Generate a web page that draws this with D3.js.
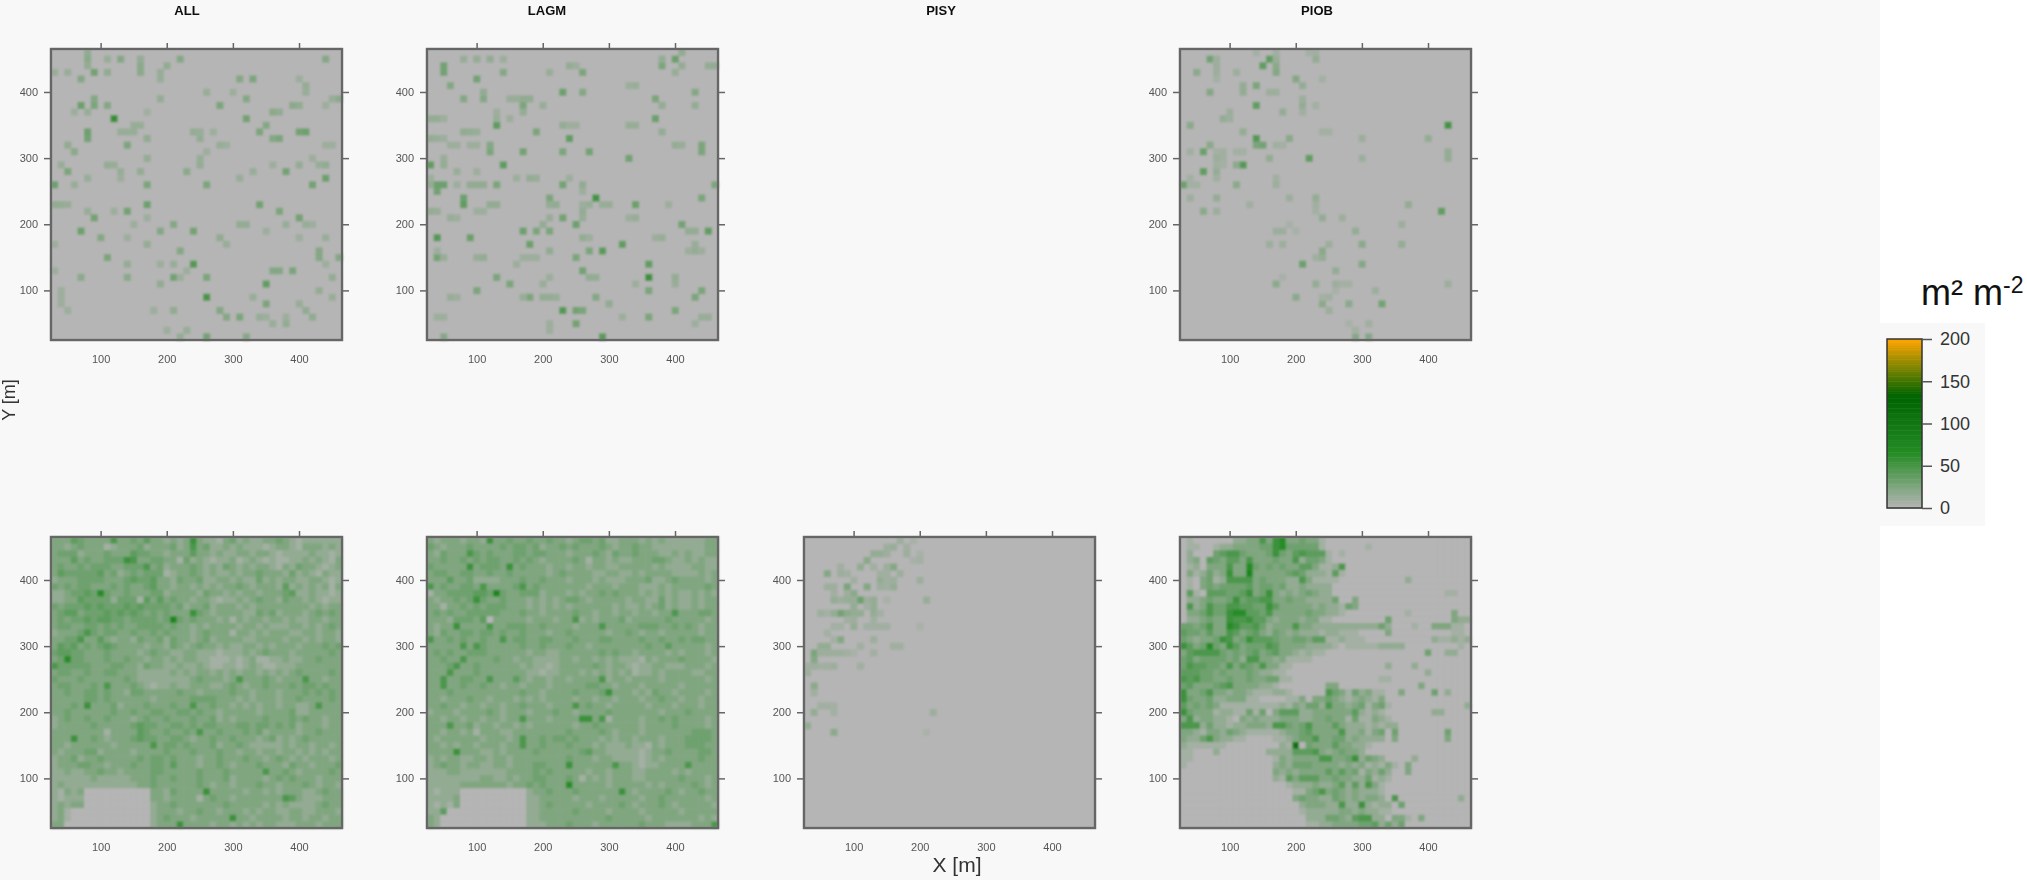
<!DOCTYPE html>
<html>
<head>
<meta charset="utf-8">
<script src="https://cdnjs.cloudflare.com/ajax/libs/d3/7.8.5/d3.min.js"></script>
<style>
    html, body { margin: 0; padding: 0; background: #fff; overflow: hidden; }
    text { font-family: "Liberation Sans", Arial, sans-serif; }
</style>
</head>
<body>
<svg id="chart"></svg>
<script>
// values, m2 m-2
const xTicks = [100, 200, 300, 400];
const yTicks = [100, 200, 300, 400];
const legendTicks = [0, 50, 100, 150, 200];
const rampStops = [0, 66.7, 133.3, 200];
const rampColors = ['#b5b5b5', '#228b22', '#006400', '#ffa500'];
const speciesTop = ['ALL', 'LAGM', 'PISY', 'PIOB'];

// sparse panels: [x, y, value]
const allTop = [
    [120,360,58],[260,90,50],[240,140,45],[70,380,33],[90,380,26],[110,380,22],[90,430,30],[80,340,33],[80,330,30],
    [140,320,26],[170,260,26],[170,230,33],[140,220,30],[90,210,30],[70,190,33],[30,260,33],[50,280,26],[130,450,22],
    [220,450,22],[160,440,19],[160,430,19],[110,430,16],[70,420,22],[90,390,22],[320,360,30],[320,390,22],[280,380,26],
    [330,420,26],[310,420,22],[350,350,22],[340,340,26],[400,340,30],[410,340,33],[370,330,26],[360,330,22],[380,280,30],
    [440,270,33],[420,260,30],[260,260,26],[340,230,30],[370,220,26],[400,210,30],[240,190,30],[190,190,22],[210,200,22],
    [100,180,22],[110,150,26],[210,120,30],[260,120,26],[350,110,38],[350,80,26],[360,130,22],[370,130,22],[390,130,26],
    [430,160,22],[430,150,22],[460,150,22],[260,30,30],[320,30,22],[310,60,26],[290,60,22],[280,70,22],[220,160,22],
    [200,440,16],[160,450,15],[440,450,22],[30,430,13],[50,430,13],[80,450,19],[80,440,15],[80,460,16],[110,450,13],
    [190,430,13],[190,420,13],[170,330,16],[140,340,13],[130,340,13],[150,340,13],[160,350,13],[150,350,13],[60,370,11],
    [80,370,13],[170,370,9],[190,390,15],[270,340,11],[240,340,15],[250,330,15],[250,340,13],[280,320,13],[290,320,11],
    [250,290,15],[250,300,13],[260,310,11],[170,300,15],[110,290,15],[120,290,13],[130,280,13],[130,270,11],[230,280,19],
    [160,280,15],[310,270,13],[330,280,13],[360,290,11],[400,290,15],[430,290,13],[440,290,16],[440,320,11],[450,320,11],
    [420,300,11],[360,370,19],[370,370,16],[300,400,11],[260,400,13],[400,380,16],[390,380,19],[440,380,11],[460,390,19],
    [450,390,13],[410,410,15],[410,400,13],[400,420,11],[40,230,15],[50,230,13],[60,260,13],[80,270,13],[40,290,13],
    [50,320,16],[60,310,19],[30,230,16],[120,220,11],[80,220,13],[170,210,11],[150,200,11],[140,180,11],[30,170,11],
    [70,120,19],[30,130,11],[40,100,11],[40,90,11],[40,80,11],[50,70,11],[140,120,19],[140,140,15],[170,170,15],[190,140,11],
    [190,110,16],[210,140,13],[220,120,11],[230,130,11],[280,180,16],[290,170,13],[310,200,15],[320,200,15],[350,190,11],
    [380,200,13],[410,200,13],[420,200,11],[400,180,11],[440,180,13],[440,140,11],[450,120,15],[430,100,15],[450,90,13],
    [400,80,13],[410,70,16],[420,60,16],[380,50,16],[380,60,11],[360,50,13],[330,90,13],[340,60,13],[350,60,11],
    [220,30,15],[230,40,13],[200,40,11],[180,70,11],[210,70,16]
];
const lagmTop = [
    [280,240,52],[360,120,56],[360,140,38],[360,100,26],[290,30,42],[230,70,45],[250,70,30],[260,70,26],[250,50,30],
    [130,350,40],[140,290,40],[30,290,38],[240,330,38],[230,400,33],[370,360,33],[370,390,26],[40,180,45],[90,180,33],
    [80,240,33],[80,230,38],[50,440,30],[50,430,30],[100,420,30],[60,410,22],[400,450,33],[380,440,26],[320,170,38],
    [290,160,42],[270,160,26],[180,170,33],[170,190,33],[190,190,26],[210,190,26],[250,200,33],[230,210,30],[340,230,33],
    [410,200,30],[450,190,38],[40,150,30],[250,150,26],[260,130,30],[130,120,26],[150,110,26],[100,100,26],[180,90,26],
    [280,90,22],[430,90,26],[440,100,26],[400,70,26],[360,60,26],[170,310,30],[120,310,26],[120,320,22],[230,310,26],
    [270,310,30],[330,300,30],[440,310,26],[440,320,26],[40,260,33],[50,260,33],[40,250,30],[130,260,26],[230,260,30],
    [460,260,26],[440,240,26],[210,240,26],[430,400,22],[110,390,22],[80,390,22],[260,430,26],[260,400,22],[170,380,26],
    [140,430,22],[190,340,26],[50,30,22],
    [100,450,15],[120,450,16],[140,450,11],[80,450,13],[210,430,13],[240,440,15],[250,440,11],[380,450,15],[410,460,16],
    [410,440,15],[400,430,13],[450,440,15],[460,440,16],[340,410,13],[330,410,11],[110,400,16],[170,390,16],
    [160,390,13],[180,390,16],[150,390,13],[200,380,13],[380,380,15],[430,380,15],[30,360,15],[40,360,15],[50,360,11],
    [130,360,13],[130,370,11],[170,370,15],[150,360,11],[230,350,15],[240,350,11],[250,350,11],[330,350,13],[340,350,13],
    [80,340,16],[90,340,15],[100,340,13],[380,340,15],[30,330,15],[40,330,13],[50,330,11],[60,320,11],[70,320,11],
    [90,320,11],[100,320,11],[400,320,15],[410,320,13],[50,300,13],[50,290,15],[30,270,11],[70,280,13],[100,280,11],
    [180,270,15],[190,270,13],[160,270,11],[30,260,16],[70,260,11],[90,260,16],[100,260,16],[110,260,16],[240,270,11],
    [260,260,16],[260,250,11],[220,230,16],[210,230,15],[260,230,11],[270,230,13],[290,230,13],[300,230,13],[120,230,16],
    [130,230,16],[100,220,11],[110,220,11],[30,220,15],[40,220,13],[60,210,13],[70,210,11],[200,200,15],[210,210,13],
    [260,220,15],[260,210,13],[390,230,11],[330,210,11],[340,210,13],[430,190,15],[420,190,15],[370,180,11],[380,180,13],
    [260,180,15],[270,180,11],[430,170,13],[430,160,15],[440,160,11],[420,160,11],[40,160,11],[50,150,13],[100,150,13],
    [110,150,15],[170,150,11],[180,150,11],[190,150,11],[210,160,16],[160,140,11],[270,120,15],[280,120,15],[200,110,13],
    [210,120,11],[340,110,11],[400,120,15],[400,110,13],[60,90,13],[70,90,11],[170,90,13],[200,90,15],[210,90,15],[220,90,13],
    [300,80,16],[320,60,11],[40,60,11],[50,60,11],[210,50,11],[210,40,11],[430,50,11],[440,60,13],[450,60,13]
];
const piobTop = [
    [70,450,30],[160,450,38],[150,440,38],[170,430,22],[170,440,19],[50,430,19],[80,440,11],[200,420,22],[230,450,15],
    [70,400,22],[140,410,26],[140,380,38],[120,410,15],[120,400,15],[210,380,15],[180,370,15],[40,350,19],[90,360,15],
    [120,340,15],[140,330,45],[140,320,26],[150,320,30],[190,330,19],[60,310,33],[70,320,19],[160,300,15],[220,300,38],
    [120,290,45],[110,290,19],[60,280,38],[80,280,15],[30,260,33],[110,260,19],[170,260,11],[80,240,15],[60,220,19],
    [80,220,11],[190,240,11],[230,240,15],[430,350,52],[430,310,15],[430,300,15],[400,330,15],[300,330,11],[300,300,11],
    [420,220,38],[370,230,15],[360,200,11],[360,170,15],[290,190,15],[300,170,19],[240,210,15],[270,210,11],[210,140,33],
    [300,140,22],[240,150,15],[240,160,19],[260,130,15],[170,110,19],[230,110,15],[260,110,11],[200,90,19],[240,80,19],
    [280,80,19],[330,80,30],[320,100,11],[430,110,11],[290,30,22],[310,30,22],[310,50,9],[250,70,11],[160,170,11],
    [180,170,11],[170,190,11],[180,190,11],[250,170,11],[210,410,15],[80,430,11],[170,400,11],[160,400,11],[40,240,11],
    [40,260,8],[100,370,11],[100,360,11],[110,430,11],[80,450,11],[80,420,8],[170,450,13],[170,460,9],[140,460,8],
    [220,460,8],[230,460,9],[240,420,8],[210,390,11],[210,370,9],[230,380,8],[90,310,9],[80,310,8],[120,310,8],
    [110,310,8],[170,320,9],[180,320,8],[40,310,9],[80,300,11],[90,300,9],[80,290,9],[90,290,8],[80,270,9],
    [170,270,9],[40,270,8],[50,260,8],[130,230,9],[230,230,9],[230,220,8],[240,340,8],[250,340,8],[190,200,6],
    [200,190,6],[230,150,9],[180,120,6],[260,100,6],[280,110,8],[270,110,8],[250,90,9],[240,90,8],[280,50,6],[290,40,8]
];
const pisyBottom = [
    [110,370,33],[80,350,30],[90,390,26],[120,390,22],[100,380,19],[60,410,22],[110,420,15],[120,430,19],[130,440,15],
    [160,420,22],[80,310,22],[40,290,26],[40,280,22],[50,300,15],[60,300,15],[70,290,11],[80,290,11],[40,240,19],
    [40,200,15],[30,180,15],[70,170,19],[220,200,11],[210,370,13],[200,400,11],[130,370,15],[130,360,15],[130,350,15],
    [100,360,15],[100,350,15],[110,350,15],[100,330,15],[70,370,15],[50,350,11],[70,350,15],[90,350,19],[140,400,15],
    [160,390,15],[170,460,11],[160,450,13],[150,450,11],[180,450,9],[140,440,15],[150,440,11],[180,440,11],[80,410,11],
    [70,390,11],[60,390,11],[60,270,11],[70,270,11],[50,270,9],[40,270,11],[130,330,9],[120,330,9],[140,330,9],
    [150,330,9],[160,300,9],[170,300,9],[110,300,9],[130,310,11],[130,290,9],[110,270,9],[30,260,11],[30,270,9],
    [40,230,9],[60,210,9],[50,210,9],[70,210,8],[70,200,8],[200,330,6],[210,170,5],[190,460,6],[200,440,6],
    [190,430,6],[200,430,8],[170,410,11],[150,410,9],[140,410,9],[130,420,9],[150,420,11],[80,420,9],[90,410,9],
    [100,400,9],[90,380,11],[70,380,9],[80,370,11],[90,370,13],[100,370,13],[120,370,11],[100,340,11],[90,340,9],
    [60,350,8],[70,330,8],[80,330,8],[60,320,8],[70,310,8],[120,360,9],[130,340,9],[140,350,8],[150,370,6],
    [140,390,11],[150,390,9],[160,400,11],[150,400,9],[50,290,11],[60,290,11],[90,290,9],[60,270,9],[100,290,6]
];

// dense panels: one string per row from y=460 down to y=30, one hex digit per cell from x=30, digit = value / 8
const allBottom = [
    '3335433336 3343533232 3732213423 2233432122 2222',
    '3323433312 3334233342 3634223232 2212332133 3232',
    '3444233343 3354433233 3533232233 2332122223 2212',
    '3335343344 4763344331 4232122312 3212112232 3213',
    '3433434443 3444634233 3432324323 2332132433 2123',
    '3544444534 2343444123 3432322323 3433324232 1322',
    '2333444433 3454453324 3342233232 2423233223 3212',
    '4343443334 3433453323 3232323343 2333252323 2313',
    '2234454843 3433344233 3324332323 3233345223 2212',
    '2233544442 4441535343 3233212232 3433243323 2122',
    '4344454544 4545444434 2334233323 2333333332 3233',
    '3455344454 5454343433 3743233332 2434233323 4343',
    '3434454554 4344443494 3433323132 3323323223 3233',
    '3443344343 4334444343 3232333323 3232223323 2343',
    '2333464344 3343343433 3234333133 2323332233 2332',
    '3344633532 3324334243 3234233332 2333323323 2332',
    '3545343454 3333233243 2343323223 3232333233 3434',
    '4554433343 3332343322 3322212223 2343332333 3343',
    '3484433343 3433233232 3322111212 3112232233 4333',
    '6444443334 4332433223 2232112212 3211222333 3333',
    '3443343344 3332222232 3233232323 3232323433 3343',
    '4333433333 3432222222 2343332363 3343233363 3233',
    '3443334363 3343212232 2333223432 3343334344 3433',
    '3343344343 3244333334 3323333433 2333233343 4343',
    '3333344343 3333323333 3444433323 2333233433 3343',
    '3334373334 2333433343 3633433232 3233233223 6333',
    '3343333334 3343344334 4343323333 3233334223 3333',
    '2343343343 3323433433 3433423233 3343334343 3233',
    '2333334333 3345443344 3434433344 3443434233 3233',
    '3333333313 3335433433 4363343334 3423333233 4333',
    '3337334323 3345443344 3233433433 3234232343 3333',
    '3323333332 3333363443 4333423343 2222232332 3323',
    '3233344233 3323333433 3433343323 3233233232 3233',
    '2334233433 3334344343 3323343334 3323432323 3323',
    '2333443323 3343344353 3323343233 3433324332 3334',
    '2232233433 2333344333 3343334333 3363343233 3343',
    '2222223222 2233343343 3343334233 3323434333 2333',
    '2322222222 2223343333 3343233233 3433233343 2332',
    '2132300000 0000033243 3337333332 3323233322 3433',
    '2122200000 0000033233 3313433233 3333365322 2333',
    '2323300000 0000023343 3333334333 3323232222 3433',
    '2310000000 0000023332 3343323332 3233223322 3332',
    '2310000000 0000023433 3233333733 2333323323 3233',
    '3300000000 0000023337 3333233232 3233222333 2333'
];
const lagmBottom = [
    '3233323327 3343343343 3234434223 3323232222 2233',
    '4323334333 3434434233 4343334323 3433222222 2233',
    '3243336434 3334434433 3233343243 3433322323 2233',
    '3343343434 4334343233 3343133232 2333443223 2322',
    '4333337344 4373433323 3233233223 3333232222 3322',
    '3443344334 3343333323 4333322332 2323333222 2323',
    '3335334222 2333433433 3233323222 3334223433 3323',
    '6343344363 3334634333 3333233323 3322232333 3343',
    '1334444554 9433444233 3232334343 3323232322 3232',
    '3233434743 3433323232 3443233333 2332242322 3233',
    '3313343434 4433323232 3233333323 2232342322 3233',
    '3434334444 4333433233 3343323323 3233233633 3443',
    '3332444350 3333323332 3362323334 2333334333 3323',
    '3233733336 3344433433 3323336333 3344433434 3233',
    '3243344344 3433433323 3433333233 4323323333 3233',
    '6334343343 3634433443 3343334433 3343343343 4433',
    '3333363643 3333433433 3433233333 3334335333 3323',
    '3434334443 3333323322 3333334343 3233332323 3323',
    '3343363333 4332332222 3323323232 2213233343 3332',
    '3334633433 3333232212 3333343233 2122332223 3323',
    '3336333433 3333322122 3332323232 3122323333 2233',
    '3363344336 3335323323 3233336233 2333323333 3323',
    '3363343343 3233233323 3333443323 3323333323 3333',
    '3334333333 3333433233 3343334733 3232433233 3323',
    '3323334332 3332323233 3323323323 3323343323 3233',
    '3343323323 3233433323 3363433233 3332333233 3233',
    '2333233334 3233323334 3323333433 3333323334 3333',
    '3323323323 3233633323 3337736133 3323343433 3323',
    '3336334233 2332323333 3323343333 3323333433 3323',
    '3323323133 3223333333 3433334323 3323333333 4443',
    '3233333323 3323633434 4343332323 3233323334 4443',
    '3323233233 3233633433 3433323222 3221323334 4433',
    '3333733322 3233334333 3334533222 2212334333 3443',
    '2323322332 3323333333 3433323322 2212323333 3433',
    '2343323322 3323334433 3733333363 3212233336 3333',
    '2223322222 2233334343 3333233233 3223333232 3333',
    '2222222233 2232334433 3431323233 3223333343 3323',
    '2222233333 3323343433 3833333233 3332323333 4323',
    '2122200000 0000023343 3343333337 3233334323 3433',
    '2222300000 0000022333 3323332333 3323343333 3323',
    '2121300000 0000022343 3333233334 3233343233 3332',
    '2250000000 0000022333 3343333233 3323333323 3333',
    '3200000000 0000022333 3333333433 3332333333 3232',
    '3200000000 0000022233 3433323333 3343332222 3336'
];
const piobBottom = [
    '0100000022 3363783343 3100000000 0000000000 0000',
    '0110012233 3344784444 4100000010 0000000000 0000',
    '0200045664 3334743565 5510100000 0000000000 0000',
    '0230543553 6333433624 4310000000 0000000000 0000',
    '0120333633 8434343355 3112600000 0000000000 0000',
    '0312423733 9333334542 2215100000 0000000000 0000',
    '0103412666 6343332263 1111000000 0000200000 0000',
    '0103434444 5344342232 2220000000 0000000000 0000',
    '0510555445 7347323234 3220000000 0000000000 1100',
    '0223433474 5566334332 2224003000 0000000000 0000',
    '0623644665 5447533333 2322143000 0000000000 0000',
    '0334644788 5546333334 3322100000 0000100000 0300',
    '0223433766 7553233323 3110000000 0400000000 0322',
    '4434633875 5642333633 2222222222 4200010033 3110',
    '5443533653 4532432322 2122111000 0300000000 0110',
    '4323347634 7555433443 5511211100 0000000021 1212',
    '7534843753 4446533332 2221011111 2222000000 0010',
    '3566664343 4534533212 1100000000 0000000400 2200',
    '4534444342 6633231111 0000000000 0000000000 0000',
    '4655443635 4363311000 0000000000 0200020000 0000',
    '5554434333 4322110000 0000000000 0000000200 0000',
    '6564433433 4334411000 0000000000 1100000000 0000',
    '4533345633 3322100000 0033000000 0000003000 0000',
    '7334633233 2111221000 0064314231 1003000040 2000',
    '7433422333 1100001130 3343212321 3000000000 0000',
    '5343431111 1111121324 4263323413 4100000000 0002',
    '7433312211 4140355522 3333335212 1000000022 0000',
    '3623322103 2322233322 3343314113 2100000000 0000',
    '6662422122 3332664346 3335322212 1220000000 0000',
    '3321332432 1111123345 3333622313 4040000000 4000',
    '3224632211 0000112344 6334423222 2030000000 3000',
    '2111111000 0000021d04 3335332210 0000000000 0000',
    '1100020000 0002222555 6323433200 0000000000 0000',
    '1100000000 0000132333 3663347243 2000020000 0000',
    '1000000000 0000232444 3333232312 1310300000 0000',
    '0000000000 0000323233 3353534132 4200300000 0000',
    '0000000000 0000215355 5334332241 2100000000 0000',
    '0000000000 0000001222 3223525263 1000000000 0000',
    '0000000000 0000000113 4634323222 1000000000 0000',
    '0000000000 0000000343 3224323233 2060000000 0020',
    '0000000000 0000000023 3322622721 2204000000 0000',
    '0000000000 0000000012 2222332322 1100000000 0000',
    '0000000000 0000000002 2244325662 2033103000 0000',
    '0000000000 0000000001 1223333445 2424000000 0000'
];

const width = 2027;
const height = 880;
const panelSize = 291;
const colX = [51, 427, 804, 1180];
const rowY = [49, 537];

function rowsToCells(rows) {
    const cells = [];
    rows.forEach((row, r) => {
        row.replace(/ /g, '').split('').forEach((c, i) => {
            cells.push([30 + i * 10, 460 - r * 10, parseInt(c, 16) * 8]);
        });
    });
    return cells;
}

const panels = [
    {col: 0, row: 0, cells: allTop},
    {col: 1, row: 0, cells: lagmTop},
    {col: 3, row: 0, cells: piobTop},
    {col: 0, row: 1, cells: rowsToCells(allBottom)},
    {col: 1, row: 1, cells: rowsToCells(lagmBottom)},
    {col: 2, row: 1, cells: pisyBottom},
    {col: 3, row: 1, cells: rowsToCells(piobBottom)}
];

const svg = d3.select('#chart').attr('width', width).attr('height', height)
    .style('display', 'block');

const defs = svg.append('defs');
defs.append('filter').attr('id', 'soft').attr('x', '-5%').attr('y', '-5%').attr('width', '110%').attr('height', '110%')
    .append('feGaussianBlur').attr('stdDeviation', 1.15);
defs.append('filter').attr('id', 'edge').attr('x', '-5%').attr('y', '-5%').attr('width', '110%').attr('height', '110%')
    .append('feGaussianBlur').attr('stdDeviation', 0.7);
defs.append('filter').attr('id', 'softText').attr('x', '-20%').attr('y', '-20%').attr('width', '140%').attr('height', '140%')
    .append('feGaussianBlur').attr('stdDeviation', 0.45);

svg.append('rect').attr('width', 1880).attr('height', height).attr('fill', '#f8f8f8');
svg.append('rect').attr('x', 1880).attr('y', 323).attr('width', 105).attr('height', 203).attr('fill', '#f8f8f8');

const color = d3.scaleLinear().domain(rampStops).range(rampColors).clamp(true);
const x = d3.scaleLinear().domain([25, 465]).range([0, panelSize]);
const y = d3.scaleLinear().domain([25, 465]).range([panelSize, 0]);

panels.forEach(p => {
    const g = svg.append('g')
        .attr('transform', `translate(${colX[p.col]}, ${rowY[p.row]})`);

    const marks = g.append('g').attr('filter', 'url(#soft)');
    marks.append('rect')
        .attr('width', panelSize)
        .attr('height', panelSize)
        .attr('fill', color(0));
    marks.selectAll('.cell').data(p.cells).enter().append('rect')
        .attr('class', 'cell')
        .attr('x', d => x(d[0] - 5))
        .attr('y', d => y(d[1] + 5))
        .attr('width', x(35) - x(25) + 0.5)
        .attr('height', y(25) - y(35) + 0.5)
        .attr('fill', d => color(d[2]));

    const frame = g.append('g').attr('filter', 'url(#edge)');
    frame.append('rect')
        .attr('width', panelSize)
        .attr('height', panelSize)
        .attr('fill', 'none')
        .attr('stroke', '#666')
        .attr('stroke-width', 2.4);

    // ticks on top, left and right, labels only on bottom and left
    frame.append('g')
        .call(d3.axisTop(x).tickValues(xTicks).tickSize(6).tickFormat(''))
        .call(styleAxis);
    frame.append('g')
        .call(d3.axisLeft(y).tickValues(yTicks).tickSize(7).tickFormat(''))
        .call(styleAxis);
    frame.append('g')
        .attr('transform', `translate(${panelSize}, 0)`)
        .call(d3.axisRight(y).tickValues(yTicks).tickSize(7).tickFormat(''))
        .call(styleAxis);

    const labels = g.append('g').attr('filter', 'url(#softText)');
    labels.append('g')
        .attr('transform', `translate(0, ${panelSize})`)
        .call(d3.axisBottom(x).tickValues(xTicks).tickSize(0).tickPadding(15))
        .call(styleLabels);
    labels.append('g')
        .call(d3.axisLeft(y).tickValues(yTicks).tickSize(0).tickPadding(13))
        .call(styleLabels);
});

function styleAxis(sel) {
    sel.select('.domain').remove();
    sel.selectAll('line').attr('stroke', '#666').attr('stroke-width', 1.5);
}

function styleLabels(sel) {
    sel.select('.domain').remove();
    sel.selectAll('line').remove();
    sel.selectAll('text')
        .attr('fill', '#555')
        .style('font-size', '11px')
        .style('font-family', '"Liberation Sans", Arial, sans-serif');
}

// titles
const titleX = [187, 547, 941, 1317];
const titles = svg.append('g').attr('filter', 'url(#softText)');
titles.selectAll('.title').data(speciesTop).enter().append('text')
    .attr('class', 'title')
    .attr('x', (d, i) => titleX[i])
    .attr('y', 15)
    .attr('text-anchor', 'middle')
    .attr('font-size', 13)
    .attr('font-weight', 'bold')
    .attr('fill', '#111')
    .text(d => d);

titles.append('text')
    .attr('x', 957)
    .attr('y', 872)
    .attr('text-anchor', 'middle')
    .attr('font-size', 21)
    .attr('fill', '#333')
    .text('X [m]');
titles.append('text')
    .attr('transform', 'translate(15, 400) rotate(-90)')
    .attr('text-anchor', 'middle')
    .attr('font-size', 18)
    .attr('fill', '#333')
    .text('Y [m]');

// colour key
const legendY = d3.scaleLinear().domain([0, 200]).range([508, 339]);
const legend = svg.append('g');
legend.selectAll('.key').data(d3.range(0, 200, 2)).enter().append('rect')
    .attr('class', 'key')
    .attr('x', 1887)
    .attr('y', d => legendY(d + 2))
    .attr('width', 35)
    .attr('height', legendY(0) - legendY(2) + 0.5)
    .attr('fill', d => color(d + 1));
legend.append('rect')
    .attr('x', 1887)
    .attr('y', 339)
    .attr('width', 35)
    .attr('height', 169)
    .attr('fill', 'none')
    .attr('stroke', '#333')
    .attr('stroke-width', 1.5);
legend.append('g')
    .attr('transform', 'translate(1922, 0)')
    .call(d3.axisRight(legendY).tickValues(legendTicks).tickSize(10).tickPadding(8))
    .call(sel => {
        sel.select('.domain').remove();
        sel.selectAll('line').attr('stroke', '#555').attr('stroke-width', 1.5);
        sel.selectAll('text')
            .attr('fill', '#333')
            .style('font-size', '18px')
            .style('font-family', '"Liberation Sans", Arial, sans-serif');
    });

const unit = svg.append('text')
    .attr('x', 1921)
    .attr('y', 305)
    .attr('font-size', 36)
    .attr('fill', '#111');
unit.append('tspan').text('m² m');
unit.append('tspan').attr('font-size', 23).attr('dy', -12).text('-2');
</script>
</body>
</html>
